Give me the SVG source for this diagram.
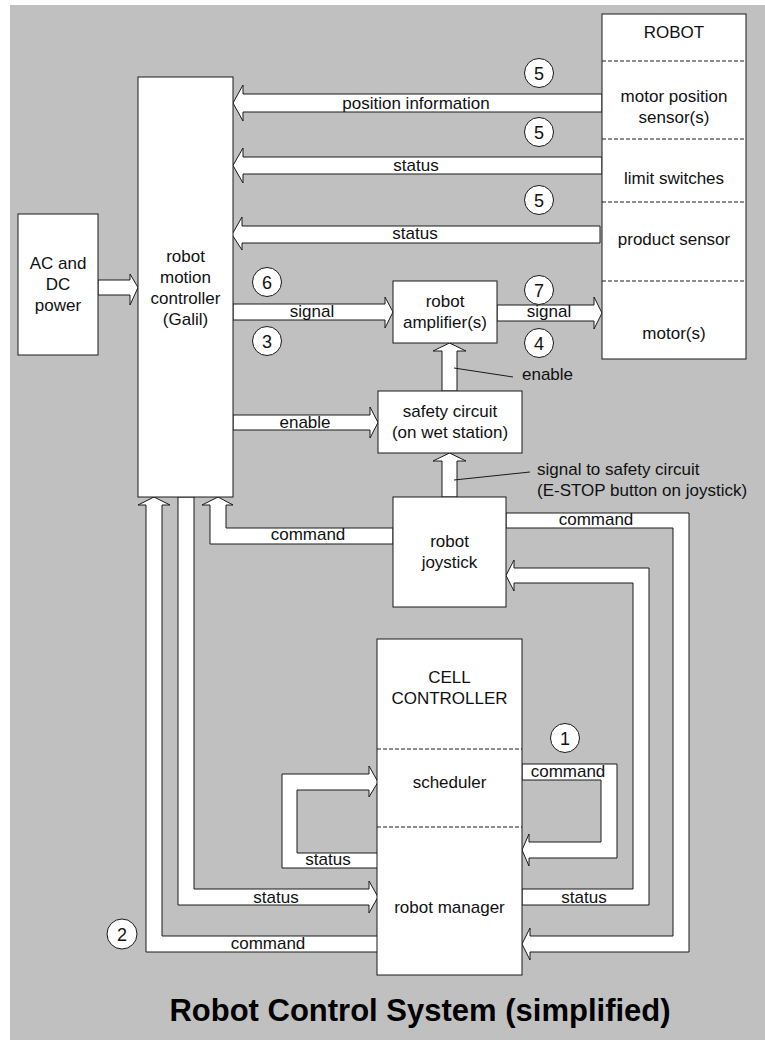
<svg xmlns="http://www.w3.org/2000/svg" width="765" height="1040" viewBox="0 0 765 1040">
  <style>
    .box { fill: #ffffff; stroke: #1a1a1a; stroke-width: 1; }
    .div { stroke: #1a1a1a; stroke-width: 1; stroke-dasharray: 4 2; fill: none; }
    .arr { fill: #ffffff; stroke: #1a1a1a; stroke-width: 1; stroke-linejoin: miter; }
    .lead { stroke: #1a1a1a; stroke-width: 1; fill: none; }
    .t { font-family: "Liberation Sans", Arial, sans-serif; font-size: 17px; fill: #111111; text-anchor: middle; }
    .ts { font-family: "Liberation Sans", Arial, sans-serif; font-size: 17px; fill: #111111; text-anchor: start; }
    .num { font-family: "Liberation Sans", Arial, sans-serif; font-size: 18px; fill: #111111; text-anchor: middle; }
    .badge { fill: #ffffff; stroke: #1a1a1a; stroke-width: 1; }
    .title { font-family: "Liberation Sans", Arial, sans-serif; font-size: 31px; font-weight: bold; fill: #000000; text-anchor: middle; }
  </style>

  <!-- background panel -->
  <rect x="10" y="5" width="755" height="1035" fill="#c0c0c0"/>

  <!-- connectors (block arrows) -->
  <g id="connectors">
    <!-- power to controller -->
    <polygon class="arr" points="98,280 130,280 130,274 138,287.5 130,305 130,295 98,295"/>
    <!-- robot sensors to controller -->
    <polygon class="arr" points="602,94 243,94 243,85 233,103 243,121 243,112 602,112"/>
    <polygon class="arr" points="602,157 243,157 243,148 233,165.5 243,183 243,174 602,174"/>
    <polygon class="arr" points="600,226 242,226 242,217 232,234.5 242,250 242,243 600,243"/>
    <!-- controller to amplifier, amplifier to motor -->
    <polygon class="arr" points="233,304 385,304 385,297 393,312 385,328 385,320 233,320"/>
    <polygon class="arr" points="497,305 594,305 594,297 602,313 594,329 594,321 497,321"/>
    <!-- safety circuit to amplifier -->
    <polygon class="arr" points="442,391 442,351 433,351 449.5,343 466,351 457,351 457,391"/>
    <!-- controller to safety circuit -->
    <polygon class="arr" points="233,415 370,415 370,407 378,422.5 370,438 370,430 233,430"/>
    <!-- joystick to safety circuit -->
    <polygon class="arr" points="442,497 442,461 433,461 449.5,453 466,461 457,461 457,497"/>
    <!-- joystick command to controller -->
    <polygon class="arr" points="393,528 226,528 226,505 233,505 218,497 202,505 210,505 210,544 393,544"/>
    <!-- robot manager command to controller -->
    <polygon class="arr" points="378,936 162,936 162,505 170,505 154,497 138,505 146,505 146,952 378,952"/>
    <!-- controller status to robot manager -->
    <polygon class="arr" points="178,497 178,905 369,905 369,913 378,897 369,881 369,889 194,889 194,497"/>
    <!-- robot manager status to scheduler -->
    <polygon class="arr" points="378,853 297,853 297,790 369,790 369,797 378,782 369,766 369,774 282,774 282,868 378,868"/>
    <!-- scheduler command to robot manager -->
    <polygon class="arr" points="522,764 617,764 617,858 529,858 529,866 522,850 529,834 529,842 601,842 601,780 522,780"/>
    <!-- robot manager status to joystick -->
    <polygon class="arr" points="522,905 649,905 649,568 514,568 514,560 506,575.5 514,591 514,583 633,583 633,889 522,889"/>
    <!-- joystick command to robot manager -->
    <polygon class="arr" points="506,513 689,513 689,952 530,952 530,960 522,944 530,928 530,936 673,936 673,528 506,528"/>

    <!-- leader lines -->
    <line class="lead" x1="454" y1="368" x2="513" y2="377"/>
    <line class="lead" x1="454" y1="480" x2="530" y2="472"/>

    <!-- connector labels -->
    <text class="t" x="416" y="109">position information</text>
    <text class="t" x="416" y="171">status</text>
    <text class="t" x="415" y="239">status</text>
    <text class="t" x="312" y="317">signal</text>
    <text class="t" x="549" y="317">signal</text>
    <text class="t" x="305" y="428">enable</text>
    <text class="ts" x="522" y="380">enable</text>
    <text class="ts" x="537" y="475">signal to safety circuit</text>
    <text class="ts" x="537" y="496">(E-STOP button on joystick)</text>
    <text class="t" x="308" y="540">command</text>
    <text class="t" x="596" y="525">command</text>
    <text class="t" x="568" y="777">command</text>
    <text class="t" x="328" y="865">status</text>
    <text class="t" x="276" y="903">status</text>
    <text class="t" x="584" y="903">status</text>
    <text class="t" x="268" y="949">command</text>

    <!-- step numbers -->
    <circle class="badge" cx="539" cy="73" r="14.5"/><text class="num" x="539" y="79.5">5</text>
    <circle class="badge" cx="539" cy="132" r="14.5"/><text class="num" x="539" y="138.5">5</text>
    <circle class="badge" cx="539" cy="200" r="14.5"/><text class="num" x="539" y="206.5">5</text>
    <circle class="badge" cx="267" cy="282" r="14.5"/><text class="num" x="267" y="288.5">6</text>
    <circle class="badge" cx="267" cy="341" r="14.5"/><text class="num" x="267" y="347.5">3</text>
    <circle class="badge" cx="539" cy="290" r="14.5"/><text class="num" x="539" y="296.5">7</text>
    <circle class="badge" cx="539" cy="343" r="14.5"/><text class="num" x="539" y="349.5">4</text>
    <circle class="badge" cx="565" cy="738" r="14.5"/><text class="num" x="565" y="744.5">1</text>
    <circle class="badge" cx="122" cy="934" r="15"/><text class="num" x="122" y="940.5">2</text>
  </g>

  <!-- nodes -->
  <g id="power">
    <rect class="box" x="18" y="214" width="80" height="141"/>
    <text class="t" x="58" y="269">AC and</text>
    <text class="t" x="58" y="290">DC</text>
    <text class="t" x="58" y="311">power</text>
  </g>

  <g id="motion-controller">
    <rect class="box" x="138" y="77" width="95" height="420"/>
    <text class="t" x="185.5" y="262">robot</text>
    <text class="t" x="185.5" y="283">motion</text>
    <text class="t" x="185.5" y="304">controller</text>
    <text class="t" x="185.5" y="325">(Galil)</text>
  </g>

  <g id="robot">
    <rect class="box" x="602" y="14" width="144" height="345"/>
    <line class="div" x1="602" y1="61" x2="746" y2="61"/>
    <line class="div" x1="602" y1="139" x2="746" y2="139"/>
    <line class="div" x1="602" y1="202" x2="746" y2="202"/>
    <line class="div" x1="602" y1="281" x2="746" y2="281"/>
    <text class="t" x="674" y="38">ROBOT</text>
    <text class="t" x="674" y="102">motor position</text>
    <text class="t" x="674" y="123">sensor(s)</text>
    <text class="t" x="674" y="184">limit switches</text>
    <text class="t" x="674" y="245">product sensor</text>
    <text class="t" x="674" y="339">motor(s)</text>
  </g>

  <g id="amplifier">
    <rect class="box" x="393" y="281" width="104" height="62"/>
    <text class="t" x="445" y="307">robot</text>
    <text class="t" x="445" y="328">amplifier(s)</text>
  </g>

  <g id="safety-circuit">
    <rect class="box" x="378" y="391" width="144" height="62"/>
    <text class="t" x="450" y="417">safety circuit</text>
    <text class="t" x="450" y="438">(on wet station)</text>
  </g>

  <g id="joystick">
    <rect class="box" x="393" y="497" width="113" height="110"/>
    <text class="t" x="449.5" y="547">robot</text>
    <text class="t" x="449.5" y="568">joystick</text>
  </g>

  <g id="cell-controller">
    <rect class="box" x="377" y="639" width="145" height="336"/>
    <line class="div" x1="377" y1="749" x2="522" y2="749"/>
    <line class="div" x1="377" y1="827" x2="522" y2="827"/>
    <text class="t" x="449.5" y="683">CELL</text>
    <text class="t" x="449.5" y="704">CONTROLLER</text>
    <text class="t" x="449.5" y="788">scheduler</text>
    <text class="t" x="449.5" y="913">robot manager</text>
  </g>

  <text class="title" x="420" y="1021">Robot Control System (simplified)</text>
</svg>
